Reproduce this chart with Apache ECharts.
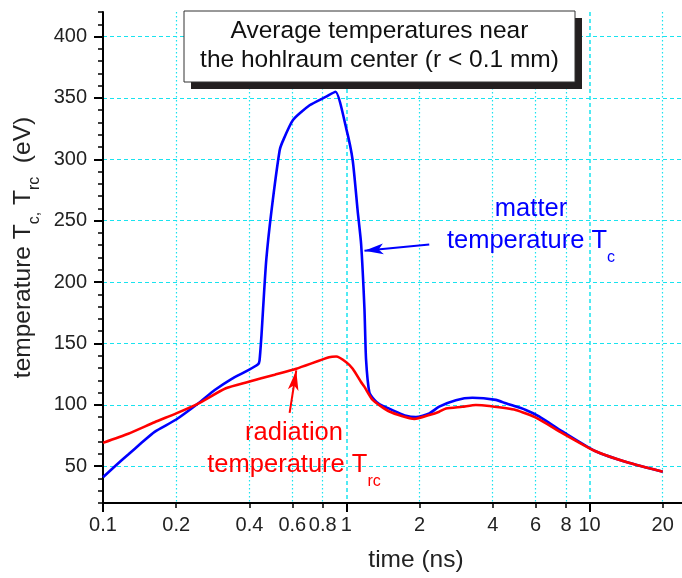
<!DOCTYPE html>
<html><head><meta charset="utf-8">
<script src="https://cdn.jsdelivr.net/npm/echarts@6/dist/echarts.min.js"></script>
<style>html,body{margin:0;padding:0;background:#fff}#c{width:682px;height:578px}</style>
</head><body><div id="c"></div>
<script>
// matter temperature Tc (blue)
const timeMatter = [0.1,0.112,0.127,0.144,0.163,0.2,0.246,0.288,0.337,0.394,0.434,0.44,0.448,0.455,0.469,0.492,0.532,0.549,0.604,0.707,0.827,0.903,1.0,1.063,1.114,1.151,1.188,1.206,1.245,1.305,1.368,1.6,1.761,1.935,2.194,2.411,2.823,3.3,4.12,4.53,5.47,6.2,7.73,10.59,14.5,20];
const tempMatter = [41,50,59.5,69,78,88,101,112,121,128,133,136,156,178,218,257,307,315,332,344,351,355,325,299,258,231,178,137,110,104,100.5,94.4,91,90,93,98.5,103.8,105.7,104,101.2,95.8,90.5,78.3,62.2,52.8,45.5];
// radiation temperature Trc (red)
const timeRad = [0.1,0.127,0.163,0.2,0.246,0.32,0.394,0.508,0.623,0.85,0.909,1.0,1.063,1.15,1.188,1.284,1.504,1.905,2.194,2.411,2.57,3.0,3.41,3.87,4.97,6.1,7.73,10.59,14.5,20];
const tempRad = [69,76.4,85.8,93,101,113.5,118.6,124.5,129.4,138.7,139.3,134.7,129.4,118.6,114.6,104,94.5,88.5,91.7,94.4,97,98.4,99.8,99,95.8,89,77,62.2,52.8,45.5];
// axis ticks
const xLabels = [0.1,0.2,0.4,0.6,0.8,1,2,4,6,8,10,20];
const xMajor = [0.1,1,10];
const xMinor = [0.2,0.4,0.6,0.8,2,4,6,8,20];
const yMajor = [50,100,150,200,250,300,350,400];

const CYAN = '#19e3ef';
const FONT = '"Liberation Sans", Arial, sans-serif';
const zip = (a,b) => a.map((v,i)=>[v,b[i]]);

const chart = echarts.init(document.getElementById('c'), null, {renderer:'canvas'});
chart.setOption({
  animation:false,
  backgroundColor:'#fff',
  textStyle:{fontFamily:FONT},
  grid:{left:103,right:0,top:12,bottom:69},
  xAxis:[{
    type:'log', logBase:10, min:0.1, max:24, position:'bottom',
    axisLine:{lineStyle:{color:'#000',width:2}},
    axisTick:{customValues:xMajor,length:9,lineStyle:{color:'#000',width:2}},
    axisLabel:{customValues:xLabels,margin:12,fontSize:20,color:'#222',fontFamily:FONT,
      formatter:v=>String(+(+v).toPrecision(2))},
    splitLine:{show:true,lineStyle:{color:CYAN,type:[4,3],width:1.5}},
    name:'time (ns)', nameLocation:'middle', nameGap:45,
    nameTextStyle:{fontSize:24.5,color:'#222',fontFamily:FONT,padding:[0,0,0,47]}
  },{
    type:'log', logBase:10, min:0.1, max:24, position:'bottom',
    axisLine:{show:false},
    axisTick:{customValues:xMinor,length:5,lineStyle:{color:'#000',width:1.5}},
    axisLabel:{show:false},
    splitLine:{show:true,lineStyle:{color:CYAN,type:[1.5,2.5],width:1.2}}
  }],
  yAxis:[{
    type:'value', min:20, max:420, position:'left',
    axisLine:{show:true,lineStyle:{color:'#000',width:2}},
    axisTick:{show:true,customValues:yMajor,length:9,lineStyle:{color:'#000',width:2}},
    axisLabel:{customValues:yMajor,margin:16,fontSize:20,color:'#222',fontFamily:FONT},
    splitLine:{show:true,lineStyle:{color:CYAN,type:[4,3],width:1.2}},
    name:'{m|temperature T}{s|c,}{m| T}{s|rc}{m|  (eV)}',
    nameLocation:'middle', nameGap:50,
    nameTextStyle:{color:'#222',fontFamily:FONT,padding:[0,0,0,20],
      rich:{
        m:{fontSize:24.5,lineHeight:32,verticalAlign:'top',color:'#222',fontFamily:FONT},
        s:{fontSize:16,lineHeight:16,verticalAlign:'top',padding:[16,0,0,0],color:'#222',fontFamily:FONT}
      }}
  },{
    type:'value', min:20, max:420, interval:10, position:'left', offset:0,
    axisLine:{show:false},
    axisTick:{show:true,length:5,lineStyle:{color:'#000',width:1.5}},
    axisLabel:{show:false},
    splitLine:{show:false}
  }],
  series:[{
    name:'matter temperature', type:'line', xAxisIndex:0, yAxisIndex:0,
    data:zip(timeMatter,tempMatter), showSymbol:false, smooth:0.2,
    lineStyle:{color:'#0000ff',width:2.6}, itemStyle:{color:'#0000ff'},
    markLine:{silent:true,symbol:['none','arrow'],symbolSize:[8,19],
      lineStyle:{color:'#0000ff',width:2,type:'solid'},label:{show:false},
      data:[[{coord:[2.194,230.6]},{coord:[1.188,225.5]}]]}
  },{
    name:'radiation temperature', type:'line', xAxisIndex:0, yAxisIndex:0,
    data:zip(timeRad,tempRad), showSymbol:false, smooth:0.2,
    lineStyle:{color:'#ff0000',width:2.6}, itemStyle:{color:'#ff0000'},
    markLine:{silent:true,symbol:['none','arrow'],symbolSize:[8,20],
      lineStyle:{color:'#ff0000',width:2,type:'solid'},label:{show:false},
      data:[[{coord:[0.585,93.4]},{coord:[0.623,128]}]]}
  }],
  graphic:[
    {type:'rect',z:100,shape:{x:191,y:18,width:391,height:71},style:{fill:'#231f20'}},
    {type:'rect',z:101,shape:{x:184,y:11,width:391,height:71},style:{fill:'#fff',stroke:'#333',lineWidth:1}},
    {type:'text',z:102,x:379.5,y:17,style:{text:'Average temperatures near\nthe hohlraum center (r < 0.1 mm)',
      font:'24.5px "Liberation Sans", Arial, sans-serif',lineHeight:28.5,align:'center',verticalAlign:'top',fill:'#111'}},
    {type:'text',z:102,x:531,y:196,style:{text:'{m|matter}\n{m|temperature T}{s|c}',align:'center',verticalAlign:'top',fill:'#0000ff',
      rich:{m:{fontSize:25.5,lineHeight:32,verticalAlign:'top',fill:'#0000ff',fontFamily:FONT},
            s:{fontSize:16,lineHeight:16,verticalAlign:'top',padding:[22,0,0,0],fill:'#0000ff',fontFamily:FONT}}}},
    {type:'text',z:102,x:294,y:420,style:{text:'{m|radiation}\n{m|temperature T}{s|rc}',align:'center',verticalAlign:'top',fill:'#ff0000',
      rich:{m:{fontSize:25.5,lineHeight:32,verticalAlign:'top',fill:'#ff0000',fontFamily:FONT},
            s:{fontSize:16,lineHeight:16,verticalAlign:'top',padding:[22,0,0,0],fill:'#ff0000',fontFamily:FONT}}}}
  ]
});
</script></body></html>
